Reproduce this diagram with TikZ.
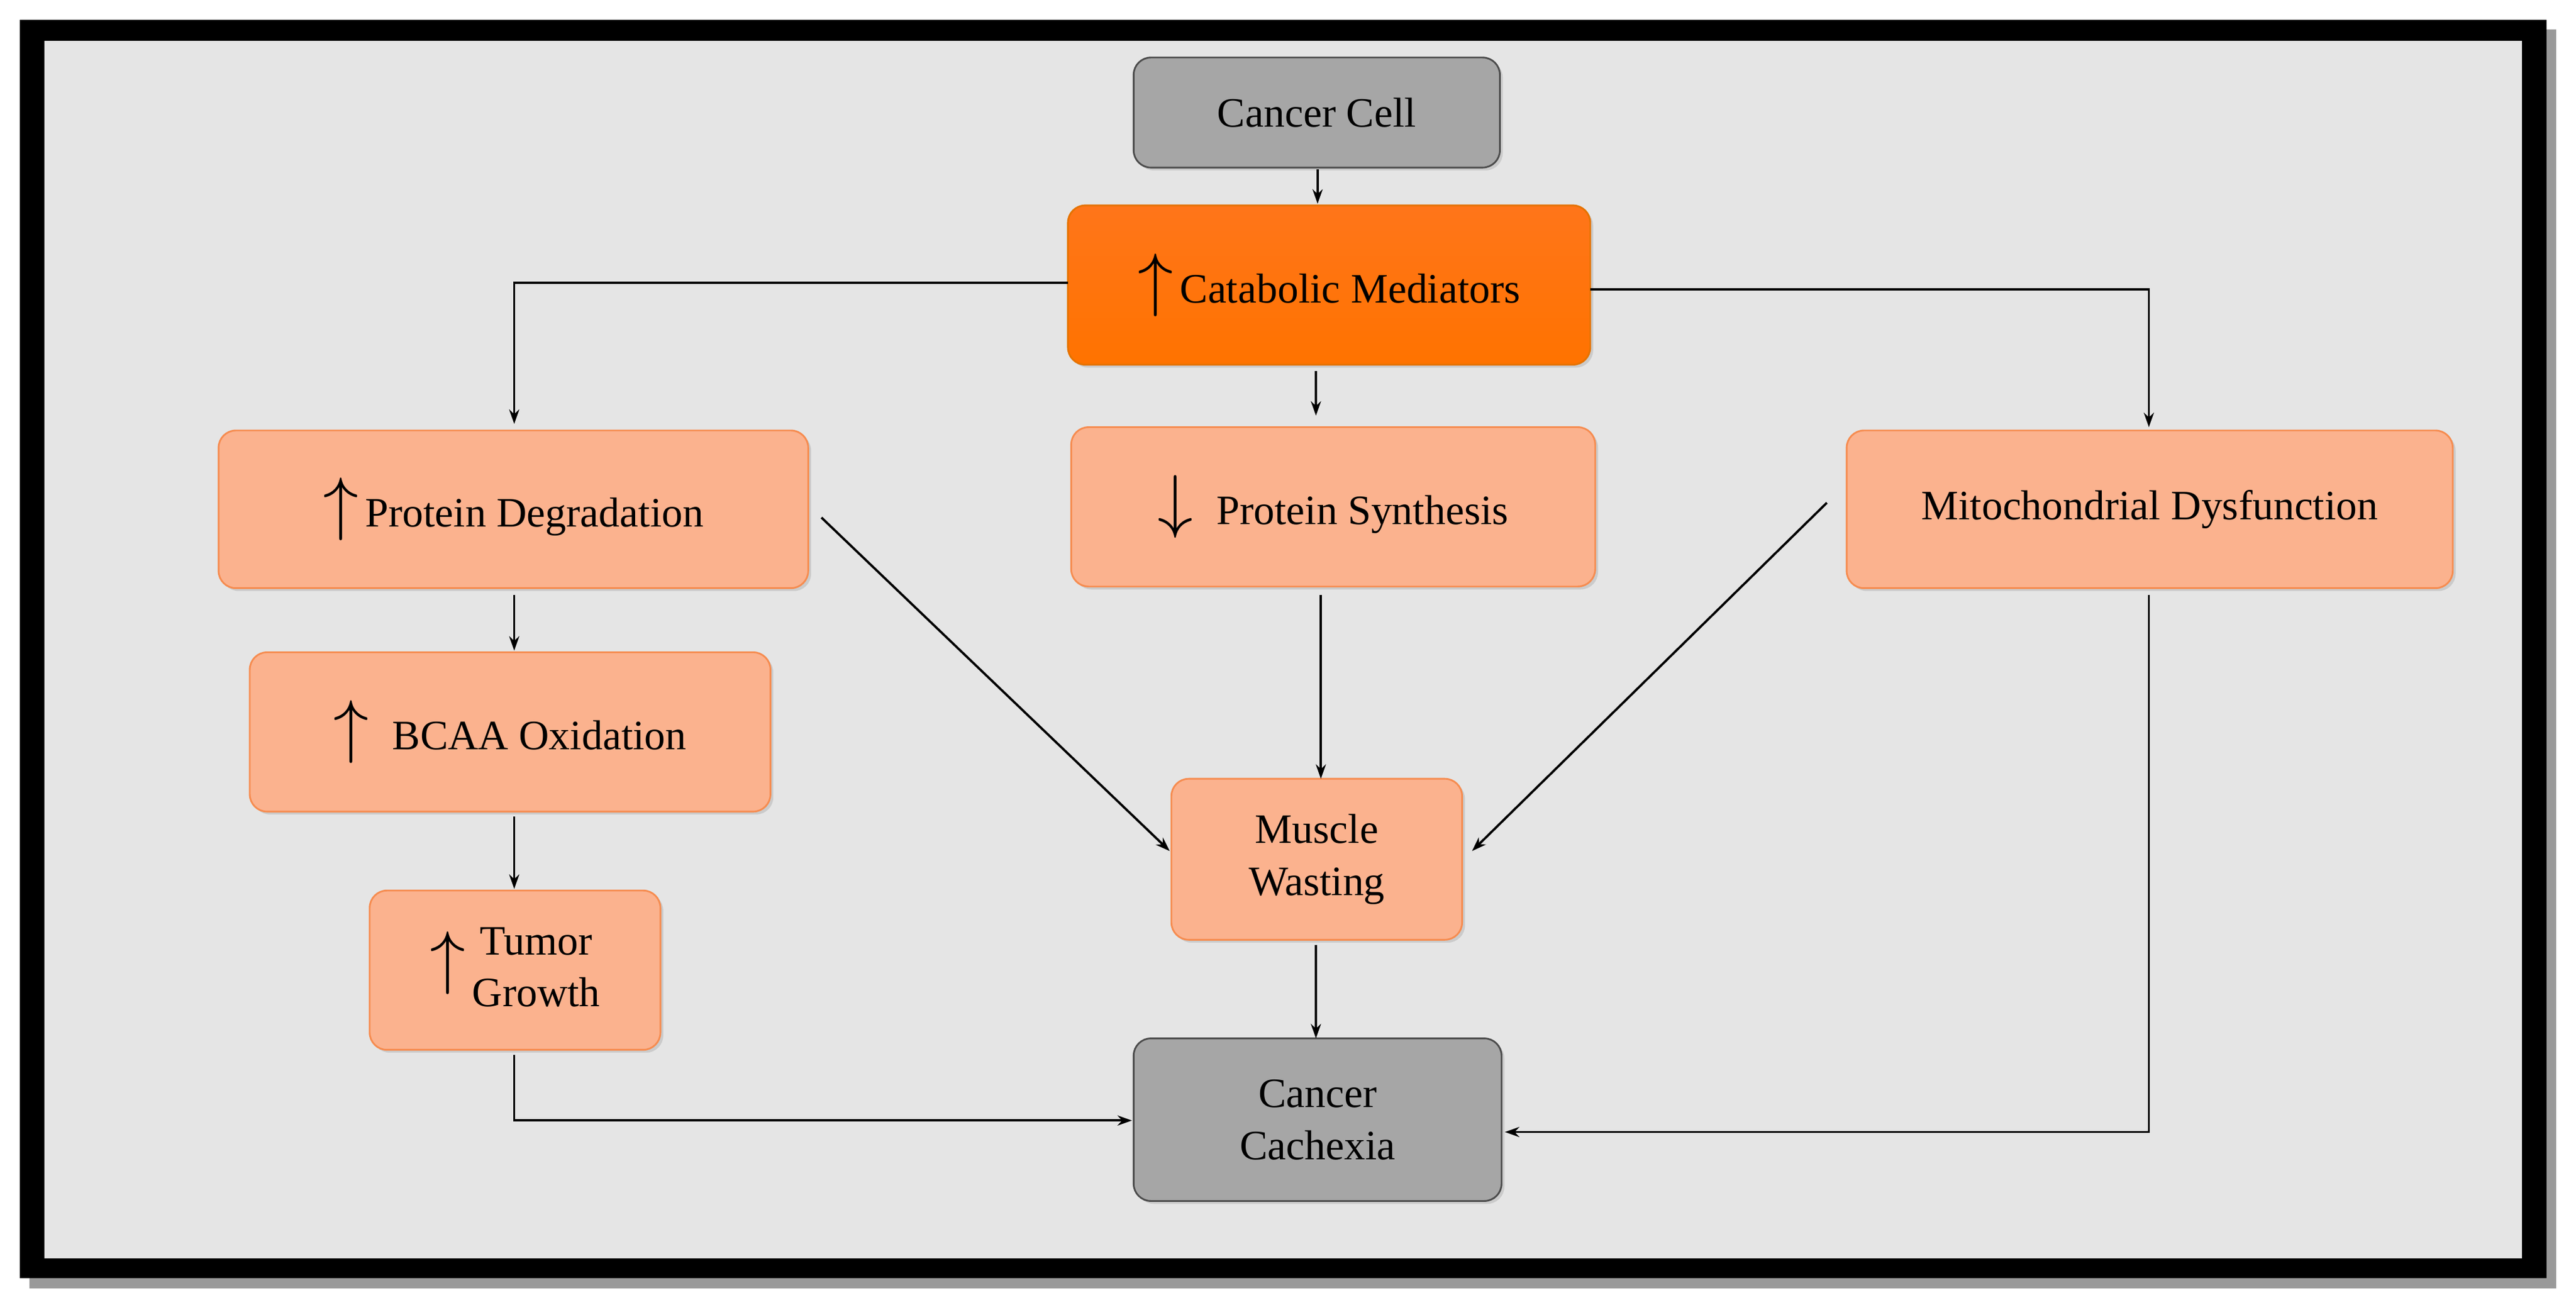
\documentclass[tikz,border=0pt]{standalone}
\usepackage{fontspec}
\setmainfont{Liberation Serif}
\usetikzlibrary{shadows,arrows.meta}
\definecolor{salmon}{RGB}{251,178,142}
\definecolor{salmonb}{RGB}{246,140,80}
\begin{document}
\begin{tikzpicture}[x=0.02cm,y=-0.02cm,
  box/.style={rounded corners=6pt,draw=salmonb,line width=0.6pt,fill=salmon,align=center,font=\fontsize{14.5}{18}\selectfont,drop shadow={opacity=0.25,shadow xshift=1pt,shadow yshift=-1pt}},
  gbox/.style={box,draw=black!70,fill=black!35},
  arr/.style={-{Stealth[length=5pt,width=3.5pt]},line width=0.8pt}]
\useasboundingbox (0,0) rectangle (1568,797);
\fill[white] (0,0) rectangle (1568,797);
\fill[black!40] (18,18) rectangle (1556,784);
\fill[black] (12,12) rectangle (1550,778);
\fill[black!10] (27,25) rectangle (1535,766);
\newcommand{\ua}{\scalebox{1.7}{$\uparrow$}}
\newcommand{\da}{\scalebox{1.7}{$\downarrow$}}
\node[gbox,minimum width=4.46cm,minimum height=1.34cm] (cc) at (801.5,68.5) {Cancer Cell};
\node[box,draw=orange!90!black,top color=orange!80!red!90,bottom color=orange!90!red,minimum width=6.36cm,minimum height=1.94cm] (cm) at (809,173.5) {\ua\,Catabolic Mediators};
\node[box,minimum width=7.18cm,minimum height=1.92cm] (pd) at (312.5,310) {\ua\,Protein Degradation};
\node[box,minimum width=6.38cm,minimum height=1.94cm] (ps) at (811.5,308.5) {\da\;\;Protein Synthesis};
\node[box,minimum width=7.38cm,minimum height=1.92cm] (md) at (1308.5,310) {Mitochondrial Dysfunction};
\node[box,minimum width=6.34cm,minimum height=1.94cm] (bc) at (310.5,445.5) {\ua\;\;BCAA Oxidation};
\node[box,minimum width=3.54cm,minimum height=1.94cm] (tg) at (313.5,590.5) {\ua\,\begin{tabular}{@{}c@{}}Tumor\\Growth\end{tabular}};
\node[box,minimum width=3.54cm,minimum height=1.96cm] (mw) at (801.5,523) {Muscle\\Wasting};
\node[gbox,minimum width=4.48cm,minimum height=1.98cm] (cx) at (802,681.5) {Cancer\\Cachexia};
\coordinate (a1) at (802,103); \coordinate (a2) at (802,124);
\draw[arr] (a1) -- (a2);
\coordinate (b1) at (650,172); \coordinate (b2) at (313,258);
\draw[arr] (b1) -| (b2);
\coordinate (c1) at (968,176); \coordinate (c2) at (1308,260);
\draw[arr] (c1) -| (c2);
\coordinate (d1) at (801,226); \coordinate (d2) at (801,253);
\draw[arr] (d1) -- (d2);
\coordinate (e1) at (313,362); \coordinate (e2) at (313,396);
\draw[arr] (e1) -- (e2);
\coordinate (f1) at (313,497); \coordinate (f2) at (313,541);
\draw[arr] (f1) -- (f2);
\coordinate (g1) at (313,642); \coordinate (g2) at (689,682);
\draw[arr] (g1) |- (g2);
\coordinate (h1) at (500,315); \coordinate (h2) at (712,518);
\draw[arr] (h1) -- (h2);
\coordinate (i1) at (804,362); \coordinate (i2) at (804,474);
\draw[arr] (i1) -- (i2);
\coordinate (j1) at (1112,306); \coordinate (j2) at (896,518);
\draw[arr] (j1) -- (j2);
\coordinate (k1) at (801,575); \coordinate (k2) at (801,632);
\draw[arr] (k1) -- (k2);
\coordinate (l1) at (1308,362); \coordinate (l2) at (916,689);
\draw[arr] (l1) |- (l2);
\end{tikzpicture}
\end{document}
